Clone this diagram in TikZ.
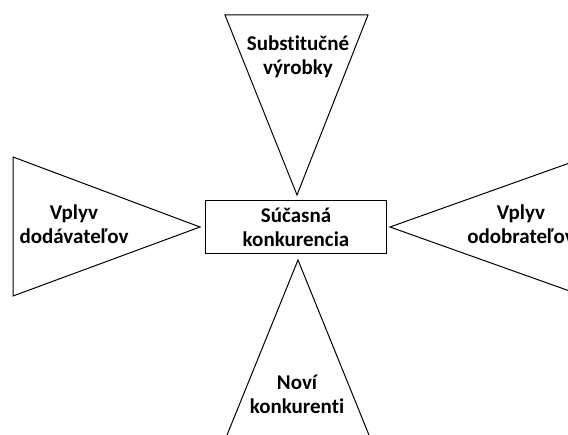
\documentclass[tikz,border=0pt]{standalone}
\usepackage{fontspec}
\setmainfont{Carlito}[Ligatures={NoCommon}]
\usepackage{tikz}
\usetikzlibrary{positioning}
\tikzstyle{wedge} = [draw=black, line width=1pt, line join=miter]
\tikzstyle{label} = [align=center, font=\bfseries\fontsize{21}{24}\selectfont, inner sep=0pt]
\tikzstyle{core} = [rectangle, draw=black, line width=1pt, minimum width=181pt, minimum height=53pt, align=center, font=\bfseries\fontsize{21}{24}\selectfont]

\begin{document}
\begin{tikzpicture}[x=1pt, y=1pt]

\clip (0,0) rectangle (568,-435);

% Wedges
\draw [wedge] (225,-15) -- (368,-15) -- (297,-195) -- cycle;
\draw [wedge] (13,-157) -- (13,-296) -- (200,-227) -- cycle;
\draw [wedge] (390,-227) -- (578,-160) -- (578,-294) -- cycle;
\draw [wedge] (298,-260) -- (225,-440) -- (371,-440) -- cycle;

% Centre
\node (current) [core] at (296,-227.5) {Súčasná\\konkurencia};

% Forces
\node (substitutes) [label] at (298,-57) {Substitučné\\výrobky};
\node (suppliers) [label] at (74,-224) {Vplyv\\dodávateľov};
\node (buyers) [label] at (521,-224) {Vplyv\\odobrateľov};
\node (entrants) [label] at (297,-394) {Noví\\konkurenti};

\end{tikzpicture}
\end{document}
